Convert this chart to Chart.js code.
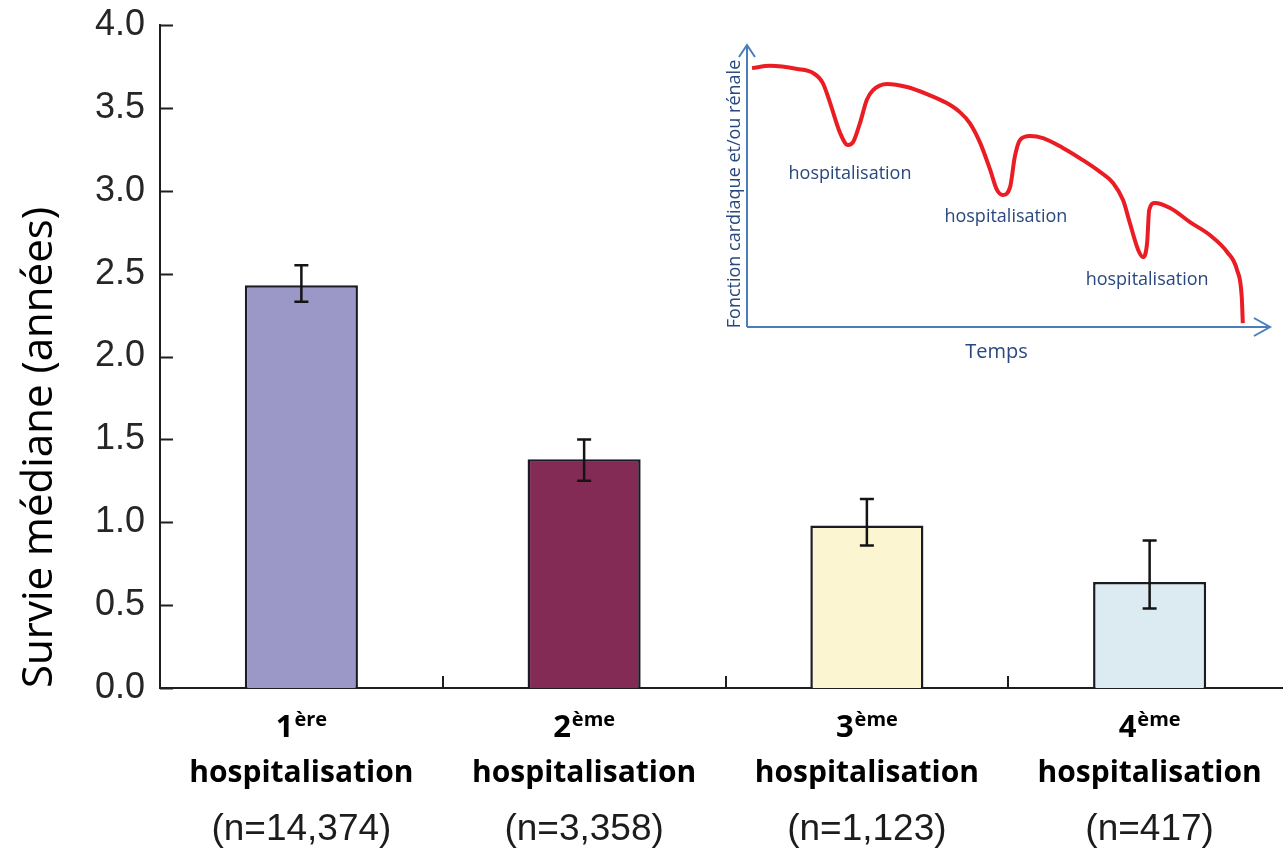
<!DOCTYPE html>
<html lang="fr">
<head>
<meta charset="utf-8">
<title>Survie médiane selon le nombre d'hospitalisations</title>
<script src="https://cdn.jsdelivr.net/npm/chart.js@4.4.1/dist/chart.umd.min.js"></script>
<style>
  html, body { margin: 0; padding: 0; background: #ffffff; overflow: hidden; }
  #wrap { position: relative; width: 1283px; height: 849px; overflow: hidden; }
  #main { position: absolute; left: 0; top: 0; }
  #inset { position: absolute; left: 700px; top: 0; }
</style>
</head>
<body>
<div id="wrap">
  <canvas id="main" width="1291" height="849"></canvas>
  <canvas id="inset" width="583" height="380"></canvas>
</div>
<script>
// Median survival (years) after the n-th hospitalisation, with error bars
const ordinals = ['1', '2', '3', '4'];
const ordinalSuffix = ['ère', 'ème', 'ème', 'ème'];
const cohortSize = ['14,374', '3,358', '1,123', '417'];
const medianSurvival = [2.43, 1.38, 0.98, 0.64];
const errorLow = [2.33, 1.25, 0.86, 0.48];
const errorHigh = [2.55, 1.50, 1.14, 0.89];
const yTickValues = [0, 0.5, 1, 1.5, 2, 2.5, 3, 3.5, 4];
const barColors = ['#9b97c6', '#832b55', '#fbf6d1', '#dcebf1'];

// Schematic inset: organ function declining over time, one dip per hospitalisation
const timePoints = [0.96, 4.4, 9.6, 12.6, 14.5, 15.9, 17.8, 19.3, 20.3, 21.6, 22.9, 24.1, 26.8, 30.6, 34.4, 38.2,
  40.7, 42.6, 44.6, 46.5, 47.8, 48.9, 50.3, 51.2, 52.2, 54.1, 56.6, 60.4, 64.2, 67.5, 70.0, 71.9, 73.2, 74.8,
  75.7, 76.5, 76.9, 78.0, 80.9, 84.7, 88.5, 91.8, 93.7, 94.6, 94.8];
const functionLevel = [91.8, 92.6, 91.5, 90.1, 86.5, 79.4, 68.8, 64.5, 65.6, 72.3, 80.5, 84.0, 86.2, 85.1, 82.6, 79.4,
  76.2, 72.3, 65.2, 55.7, 48.6, 46.8, 49.6, 60.3, 66.3, 67.7, 67.0, 63.5, 59.2, 55.0, 51.1, 45.0, 36.9, 27.3,
  24.8, 29.8, 41.5, 44.0, 42.2, 37.2, 32.6, 26.6, 20.2, 10.6, 1.4];
const dipLabel = 'hospitalisation';
const dipLabelTime = [19.7, 49.5, 76.5];
const dipLabelLevel = [54.3, 39.0, 16.7];

const AXIS_COLOR = '#1e1e1e';

// Error bars, inward tick marks and the three-line category labels
const barDecorations = {
  id: 'barDecorations',
  afterDatasetsDraw(chart) {
    const { ctx, scales: { y } } = chart;
    const meta = chart.getDatasetMeta(0);
    ctx.save();
    ctx.strokeStyle = '#141414';
    ctx.lineWidth = 2.5;
    meta.data.forEach((bar, i) => {
      const cx = bar.x;
      const yLo = y.getPixelForValue(errorLow[i]);
      const yHi = y.getPixelForValue(errorHigh[i]);
      ctx.beginPath();
      ctx.moveTo(cx, yLo); ctx.lineTo(cx, yHi);
      ctx.moveTo(cx - 7, yLo); ctx.lineTo(cx + 7, yLo);
      ctx.moveTo(cx - 7, yHi); ctx.lineTo(cx + 7, yHi);
      ctx.stroke();
    });
    ctx.restore();
  },
  afterDraw(chart) {
    const { ctx, chartArea, scales: { x, y } } = chart;
    ctx.save();
    ctx.strokeStyle = AXIS_COLOR;
    ctx.lineWidth = 2;
    // y ticks pointing into the plot
    y.ticks.forEach(t => {
      const py = Math.round(y.getPixelForValue(t.value)) + 0.5;
      ctx.beginPath();
      ctx.moveTo(chartArea.left, py);
      ctx.lineTo(chartArea.left + 13, py);
      ctx.stroke();
    });
    // x ticks between categories pointing up
    for (let i = 0; i < ordinals.length; i++) {
      const px = i < ordinals.length - 1
        ? (x.getPixelForValue(i) + x.getPixelForValue(i + 1)) / 2
        : chartArea.right;
      ctx.beginPath();
      ctx.moveTo(Math.round(px), chartArea.bottom);
      ctx.lineTo(Math.round(px), chartArea.bottom - 12);
      ctx.stroke();
    }
    // category labels
    ctx.fillStyle = '#000000';
    ctx.textBaseline = 'alphabetic';
    ordinals.forEach((o, i) => {
      const cx = x.getPixelForValue(i);
      ctx.font = 'bold 31px "Open Sans"';
      const w1 = ctx.measureText(o).width;
      ctx.font = 'bold 20px "Open Sans"';
      const w2 = ctx.measureText(ordinalSuffix[i]).width;
      const start = cx - (w1 + w2 + 1) / 2;
      ctx.textAlign = 'left';
      ctx.font = 'bold 31px "Open Sans"';
      ctx.fillText(o, start, 737);
      ctx.font = 'bold 20px "Open Sans"';
      ctx.fillText(ordinalSuffix[i], start + w1 + 1, 726);
      ctx.textAlign = 'center';
      ctx.font = 'bold 30px "Open Sans"';
      ctx.fillText('hospitalisation', cx, 782);
      ctx.fillStyle = '#1c1c1c';
      ctx.font = '37px "Liberation Sans"';
      ctx.fillText('(n=' + cohortSize[i] + ')', cx, 840);
      ctx.fillStyle = '#000000';
    });
    ctx.restore();
  }
};

new Chart(document.getElementById('main'), {
  type: 'bar',
  data: {
    labels: ordinals.map((o, i) => o + ordinalSuffix[i] + ' hospitalisation'),
    datasets: [{
      data: medianSurvival,
      backgroundColor: barColors,
      borderColor: '#1b1b26',
      borderWidth: 2.5,
      borderSkipped: 'bottom',
      barPercentage: 0.4,
      categoryPercentage: 1.0
    }]
  },
  options: {
    responsive: false,
    animation: false,
    devicePixelRatio: 1,
    layout: { padding: { top: 25, right: 0, bottom: 0, left: 0 } },
    plugins: { legend: { display: false }, tooltip: { enabled: false } },
    scales: {
      x: {
        grid: { display: false },
        border: { display: true, color: AXIS_COLOR, width: 2 },
        ticks: { display: false },
        afterFit(scale) { scale.height = 161; }
      },
      y: {
        min: 0,
        max: 4,
        afterBuildTicks(scale) { scale.ticks = yTickValues.map(v => ({ value: v })); },
        grid: { display: false },
        border: { display: true, color: AXIS_COLOR, width: 2 },
        ticks: {
          padding: 7,
          color: '#262626',
          font: { family: '"Liberation Sans"', size: 36 },
          callback: v => v.toFixed(1)
        },
        title: {
          display: true,
          text: 'Survie médiane (années)',
          align: 'start',
          color: '#000000',
          font: { family: '"Open Sans"', size: 42 },
          padding: { top: 15, bottom: 0 }
        },
        afterFit(scale) {
          scale.width = 160;
          scale.paddingTop = 0;
          scale.paddingBottom = 0;
        }
      }
    }
  },
  plugins: [barDecorations]
});

// Inset axes with arrowheads and their texts
const INSET_BLUE = '#4a7ebb';
const INSET_TEXT = '#28487e';
const insetDecorations = {
  id: 'insetDecorations',
  beforeDatasetsDraw(chart) {
    const { ctx, chartArea: a, scales: { x, y } } = chart;
    ctx.save();
    ctx.strokeStyle = INSET_BLUE;
    ctx.lineWidth = 2;
    ctx.beginPath();
    ctx.moveTo(a.left, a.bottom); ctx.lineTo(a.left, a.top);
    ctx.moveTo(a.left - 8, a.top + 12); ctx.lineTo(a.left, a.top); ctx.lineTo(a.left + 8, a.top + 12);
    ctx.moveTo(a.left, a.bottom); ctx.lineTo(a.right, a.bottom);
    ctx.moveTo(a.right - 16, a.bottom - 9); ctx.lineTo(a.right, a.bottom); ctx.lineTo(a.right - 16, a.bottom + 9);
    ctx.stroke();

    ctx.fillStyle = INSET_TEXT;
    ctx.textAlign = 'center';
    ctx.textBaseline = 'middle';
    ctx.font = '18px "Open Sans"';
    dipLabelTime.forEach((t, i) => {
      ctx.fillText(dipLabel, x.getPixelForValue(t), y.getPixelForValue(dipLabelLevel[i]));
    });
    ctx.font = '20px "Open Sans"';
    ctx.fillText('Temps', (a.left + a.right) / 2 - 12, a.bottom + 25);
    ctx.save();
    ctx.translate(a.left - 12, (a.top + a.bottom) / 2 + 8);
    ctx.rotate(-Math.PI / 2);
    ctx.font = '18px "Open Sans"';
    ctx.fillText('Fonction cardiaque et/ou rénale', 0, 0);
    ctx.restore();
    ctx.restore();
  }
};

new Chart(document.getElementById('inset'), {
  type: 'line',
  data: {
    datasets: [{
      data: timePoints.map((t, i) => ({ x: t, y: functionLevel[i] })),
      borderColor: '#ea1c24',
      borderWidth: 4,
      pointRadius: 0,
      cubicInterpolationMode: 'monotone',
      fill: false,
      clip: false
    }]
  },
  options: {
    responsive: false,
    animation: false,
    devicePixelRatio: 1,
    layout: { padding: { left: 47, right: 13, top: 45, bottom: 53 } },
    plugins: { legend: { display: false }, tooltip: { enabled: false } },
    scales: {
      x: { type: 'linear', min: 0, max: 100, display: false },
      y: { type: 'linear', min: 0, max: 100, display: false }
    }
  },
  plugins: [insetDecorations]
});
</script>
</body>
</html>
